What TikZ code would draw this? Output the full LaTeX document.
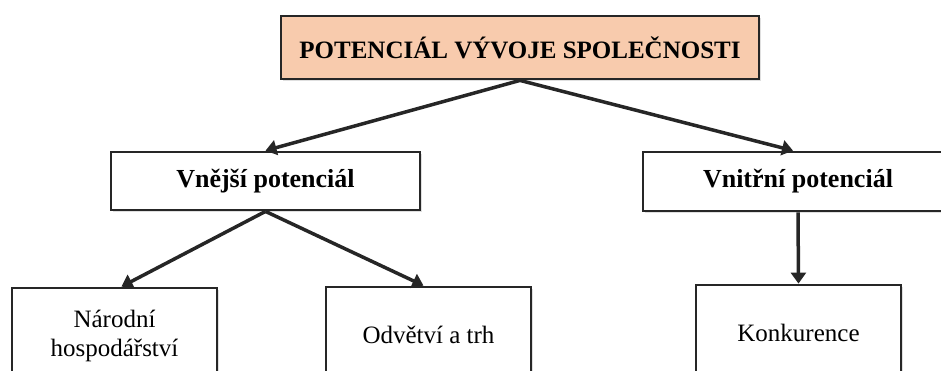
\documentclass[tikz,border=0pt]{standalone}
\usepackage{fontspec}
\setmainfont{Liberation Serif}
\usepackage{xcolor}
\usepackage{tikz}
\usetikzlibrary{arrows.meta, shadows}

\definecolor{peach}{HTML}{F8CBAD}
\definecolor{edge}{HTML}{262626}

\begin{document}
\begin{tikzpicture}[
    x=1pt, y=-1pt,
    box/.style={rectangle, draw=edge, line width=2.8pt, fill=white, align=center,
        drop shadow={shadow xshift=2pt, shadow yshift=-2pt, opacity=0.25}},
    arrow/.style={-{Triangle[length=11pt, width=15pt]}, line width=3.5pt, edge}
]
\useasboundingbox (0,0) rectangle (941,370);
\clip (0,0) rectangle (941,370);

% Top level
\node[box, fill=peach, minimum width=478pt, minimum height=63pt,
    font=\fontsize{25}{30}\selectfont\bfseries] (top) at (520,47.5) {POTENCIÁL VÝVOJE SPOLEČNOSTI};

% Second level
\node[box, minimum width=309pt, minimum height=58pt,
    font=\fontsize{26}{31}\selectfont\bfseries] (outer) at (265.5,181) {Vnější potenciál};
\node[box, minimum width=310pt, minimum height=59pt,
    font=\fontsize{26}{31}\selectfont\bfseries] (inner) at (798,181.5) {Vnitřní potenciál};

% Third level
\node[box, minimum width=205pt, minimum height=96pt,
    font=\fontsize{25}{29}\selectfont] (economy) at (114.5,336) {Národní\\hospodářství};
\node[box, minimum width=205pt, minimum height=96pt,
    font=\fontsize{25}{29}\selectfont] (market) at (428.5,335) {Odvětví a trh};
\node[box, minimum width=205pt, minimum height=96pt,
    font=\fontsize{25}{29}\selectfont] (rivals) at (798.5,333) {Konkurence};

% Arrows
\draw[arrow] (top.south) -- (outer.north);
\draw[arrow] (top.south) -- ([xshift=-5pt]inner.north);
\draw[arrow] (outer.south) -- ([xshift=7pt]economy.north);
\draw[arrow] (outer.south) -- ([xshift=-5pt]market.north);
\draw[arrow] (inner.south) -- (rivals.north);

\end{tikzpicture}
\end{document}
